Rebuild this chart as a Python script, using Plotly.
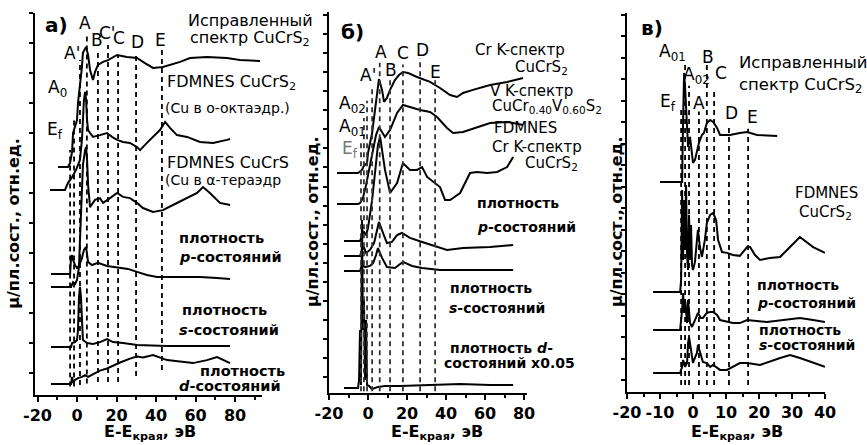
import plotly.graph_objects as go

FONT = "DejaVu Sans, Liberation Sans, Arial, sans-serif"

# ---------------- Panel а) : Cu K-edge, CuCrS2 ----------------
a_exp_x = [-9.6, -4.6, -3.5, -2.5, -2.0, 0.0, 0.5, 1.5, 2.5, 3.0, 4.6, 5.6, 6.6, 8.1, 9.1, 10.6, 13.2, 15.7, 20.3, 25.3, 30.4, 34.4, 38.5, 43.5, 47.1, 52.2, 57.2, 65.8, 75.9, 82.5, 92.7]
a_exp_y = [6.87, 6.87, 7.0, 7.37, 8.0, 8.43, 9.0, 9.53, 10.2, 10.67, 10.87, 10.6, 10.1, 9.77, 10.03, 10.27, 10.37, 10.43, 10.6, 10.53, 10.5, 10.33, 10.17, 10.2, 10.27, 10.37, 10.5, 10.53, 10.5, 10.43, 10.4]

a_oct_x = [-13.7, -6.1, -4.6, -2.5, -0.5, 1.5, 2.5, 3.0, 3.5, 4.1, 4.6, 5.1, 5.6, 6.6, 8.1, 11.6, 15.2, 17.7, 20.3, 23.3, 26.8, 30.4, 31.9, 35.4, 38.5, 42.0, 44.6, 47.1, 50.6, 55.7, 62.3, 68.9, 75.9, 77.5]
a_oct_y = [6.1, 6.1, 6.33, 6.53, 6.77, 7.1, 7.77, 8.6, 9.1, 9.37, 9.1, 8.43, 8.1, 8.0, 7.87, 7.93, 8.0, 7.87, 7.77, 7.7, 7.67, 7.53, 7.43, 7.67, 7.87, 8.1, 8.37, 8.17, 7.93, 7.87, 7.7, 7.67, 7.77, 7.8]

a_tet_x = [-13.2, -3.0, -2.0, -1.0, 0.0, 1.0, 1.5, 2.0, 2.5, 3.0, 4.1, 4.6, 5.1, 5.6, 6.6, 8.1, 9.1, 11.6, 13.2, 16.7, 20.3, 23.3, 26.8, 30.4, 33.4, 38.5, 43.5, 48.6, 55.7, 60.8, 63.8, 67.3, 72.4, 77.5]
a_tet_y = [2.87, 2.87, 3.03, 2.97, 3.1, 3.53, 4.43, 5.43, 6.27, 6.93, 7.43, 7.53, 7.1, 6.27, 5.53, 5.7, 5.77, 5.83, 5.67, 5.83, 6.0, 5.87, 5.83, 5.67, 5.5, 5.37, 5.43, 5.6, 5.83, 6.0, 6.2, 6.0, 5.67, 5.6]

a_p_x = [-13.2, -3.5, -3.0, -2.5, -2.0, -1.0, 0.0, 1.0, 2.5, 3.5, 4.6, 5.6, 7.6, 10.6, 15.2, 20.8, 25.8, 30.4, 35.4, 40.5, 48.6, 62.3, 70.9, 77.5]
a_p_y = [3.3, 3.3, 3.87, 3.93, 3.77, 3.6, 3.5, 3.57, 3.83, 4.1, 4.2, 3.7, 3.6, 3.67, 3.57, 3.53, 3.47, 3.37, 3.27, 3.2, 3.2, 3.2, 3.17, 3.13]

a_s_x = [-13.2, -3.0, -2.5, -1.0, 0.0, 0.5, 1.0, 1.5, 2.0, 2.5, 3.0, 5.1, 8.1, 11.6, 15.2, 18.2, 23.3, 30.4, 45.6, 77.5]
a_s_y = [0.87, 0.87, 1.0, 1.03, 1.1, 1.43, 2.53, 2.87, 2.53, 1.43, 1.1, 1.0, 0.97, 1.03, 1.13, 1.03, 1.0, 0.93, 0.9, 0.9]

a_d_x = [-13.2, -3.0, -2.5, -2.0, -1.0, 0.5, 2.5, 4.1, 5.6, 8.1, 11.6, 15.2, 18.2, 21.8, 26.8, 30.4, 33.4, 38.5, 45.6, 52.2, 58.7, 65.8, 70.9, 77.5]
a_d_y = [-0.37, -0.37, -0.13, -0.33, -0.23, -0.17, -0.13, -0.07, -0.13, -0.05, 0.08, 0.15, 0.25, 0.35, 0.48, 0.55, 0.52, 0.6, 0.43, 0.37, 0.33, 0.43, 0.53, 0.33]

a_mark_x = [-3.5, -1.5, 1.5, 5.0, 10.6, 15.7, 20.8, 29.9, 43.0]
a_mark_top = [7.43, 8.43, 10.43, 11.27, 10.77, 10.93, 10.6, 10.67, 10.87]
a_mark_bot = [-0.45, -0.45, -0.4, -0.35, -0.3, -0.3, -0.3, -0.1, 0.1]

# ---------------- Panel б) : Cr / V K-edges ----------------
b_cr_x = [-15.9, -5.1, -3.1, -2.1, -0.5, 0.0, 2.1, 3.6, 5.1, 5.6, 7.2, 8.2, 9.7, 11.3, 13.8, 15.9, 17.9, 20.5, 25.1, 31.8, 36.9, 42.1, 45.6, 48.7, 53.8, 62.6, 71.3, 79.5]
b_cr_y = [10.71, 10.71, 10.87, 11.08, 11.23, 11.76, 12.81, 14.17, 15.22, 15.64, 15.07, 14.44, 14.65, 15.07, 15.59, 15.85, 16.01, 15.96, 15.75, 15.49, 15.17, 14.80, 14.70, 14.91, 15.07, 15.33, 15.49, 15.70]

b_v_x = [-15.9, -5.1, -4.1, -2.6, -1.0, 1.0, 2.6, 4.1, 5.6, 7.2, 8.7, 11.3, 14.9, 17.9, 21.5, 26.7, 31.8, 35.4, 40.5, 43.6, 48.7, 55.9, 62.6, 71.3, 79.5]
b_v_y = [9.08, 9.08, 9.13, 9.40, 10.08, 11.13, 12.02, 12.70, 13.12, 12.81, 12.60, 12.97, 13.86, 14.28, 14.17, 14.02, 13.91, 13.65, 13.07, 12.81, 12.86, 13.12, 13.33, 13.39, 13.23]

b_fd_x = [-12.3, -4.1, -3.1, -2.1, -1.0, 0.0, 2.1, 3.6, 5.1, 6.2, 7.2, 8.7, 11.3, 14.9, 17.9, 21.5, 25.1, 27.7, 30.3, 33.3, 36.9, 39.5, 42.1, 47.2, 52.3, 55.9, 61.0, 66.2, 71.3, 74.4]
b_fd_y = [7.14, 7.14, 7.40, 7.61, 7.45, 7.82, 9.29, 10.87, 12.18, 12.60, 11.92, 10.87, 9.66, 10.18, 11.23, 10.87, 10.87, 11.02, 10.50, 10.24, 9.97, 9.29, 9.29, 9.66, 10.71, 10.76, 10.71, 10.76, 11.02, 11.55]

b_p_x = [-12.3, -4.1, -3.1, -2.1, -1.0, 1.0, 3.1, 4.6, 5.6, 7.7, 9.7, 12.3, 14.9, 17.4, 21.5, 27.7, 35.4, 40.5, 48.7, 62.6, 74.4]
b_p_y = [6.35, 6.35, 6.67, 6.82, 6.51, 6.67, 7.03, 7.72, 8.14, 7.56, 7.03, 7.09, 7.45, 7.56, 7.30, 7.09, 6.82, 6.67, 6.77, 6.82, 6.93]

b_s_x = [-12.3, -4.1, -3.1, -1.5, 1.0, 2.6, 4.1, 5.1, 7.2, 9.7, 13.8, 17.9, 22.6, 27.7, 36.9, 74.4]
b_s_y = [5.56, 5.56, 5.88, 5.77, 5.83, 5.98, 6.40, 6.77, 6.25, 5.77, 5.72, 6.04, 5.83, 5.72, 5.62, 5.62]

b_d_x = [-12.3, -5.1, -4.6, -4.1, -3.6, -3.1, -2.6, -2.1, -1.5, -1.0, -0.5, 0.5, 2.1, 5.1, 8.7, 16.4, 31.8, 47.2, 62.6, 74.4]
b_d_y = [-0.58, -0.58, -0.16, 2.47, -0.42, 8.24, 2.47, 4.04, -0.16, 2.99, -0.42, -0.47, -0.63, -0.52, -0.47, -0.47, -0.42, -0.37, -0.42, -0.42]

b_mark_x = [-3.6, -2.1, -0.5, 2.1, 6.0, 11.3, 17.9, 26.7, 34.4]
b_mark_top = [12.4, 13.6, 14.5, 15.3, 16.5, 15.7, 16.4, 16.75, 15.6]
b_mark_bot = -0.75

# ---------------- Panel в) ----------------
c_exp_x = [-10.0, -3.3, -3.0, -2.7, -2.4, -1.8, -1.5, -0.9, -0.3, 0.0, 0.6, 1.2, 1.8, 2.7, 3.3, 4.2, 5.2, 6.1, 7.3, 8.2, 9.1, 11.2, 14.2, 16.4, 19.4, 25.5]
c_exp_y = [9.22, 9.22, 12.11, 14.30, 13.65, 11.64, 10.85, 11.32, 10.57, 10.11, 10.25, 10.62, 11.04, 11.41, 11.50, 11.97, 12.11, 12.02, 11.74, 11.41, 11.41, 11.41, 11.50, 11.55, 11.41, 11.36]

c_fd_x = [-12.1, -3.9, -3.6, -3.3, -3.0, -2.7, -2.4, -2.1, -1.8, -1.5, -1.2, -0.9, -0.6, -0.3, 0.0, 0.6, 1.2, 1.5, 2.1, 2.7, 3.6, 4.2, 5.2, 6.1, 7.0, 7.6, 8.8, 10.3, 12.1, 14.2, 16.4, 17.3, 18.8, 20.3, 23.3, 26.4, 29.4, 32.4, 36.4, 40.0]
c_fd_y = [4.10, 4.10, 4.66, 8.85, 5.59, 8.38, 6.05, 9.08, 5.82, 5.12, 7.69, 5.59, 7.22, 5.36, 5.12, 5.50, 6.52, 6.99, 6.19, 5.73, 6.52, 7.31, 7.69, 7.78, 7.45, 6.52, 5.96, 5.92, 5.82, 5.78, 6.19, 6.19, 5.82, 5.59, 5.68, 5.73, 6.19, 6.66, 6.19, 5.92]

c_p_x = [-12.1, -3.9, -3.3, -3.0, -2.7, -2.4, -1.8, -1.5, -0.9, -0.3, 0.6, 1.5, 2.4, 3.0, 4.2, 5.2, 6.1, 7.3, 8.2, 10.3, 12.1, 14.2, 16.4, 22.4, 26.4, 32.4, 36.4, 40.0]
c_p_y = [2.33, 2.33, 3.26, 4.05, 3.12, 3.73, 2.65, 3.73, 2.65, 2.47, 2.79, 3.12, 2.89, 2.89, 3.12, 3.17, 3.17, 3.03, 2.79, 2.70, 2.65, 2.65, 2.79, 2.70, 2.79, 2.89, 2.79, 2.70]

c_s_x = [-12.1, -3.9, -3.3, -3.0, -2.4, -1.8, -1.5, -1.2, -0.6, 0.0, 0.3, 1.2, 1.5, 2.1, 3.0, 4.2, 5.2, 6.1, 8.2, 10.3, 12.1, 14.2, 16.4, 20.3, 26.4, 29.4, 32.4, 36.4, 40.0]
c_s_y = [0.33, 0.33, 0.61, 0.93, 0.61, 0.79, 1.72, 2.00, 1.40, 0.79, 0.93, 1.26, 1.63, 1.26, 0.84, 0.79, 0.61, 0.70, 0.47, 0.47, 0.61, 0.79, 0.79, 0.70, 1.02, 1.16, 1.02, 0.79, 0.61]

c_mark_x = [-3.6, -2.4, -1.2, 1.8, 4.2, 6.4, 10.9, 16.7]
c_mark_top = [12.6, 14.7, 13.7, 12.5, 14.7, 13.6, 11.9, 11.7]
c_mark_bot = -0.23

ticks_ab = [-20, 0, 20, 40, 60, 80]
ticks_c = [-20, -10, 0, 10, 20, 30, 40]

fig = go.Figure()

def curve(x, y, ax):
    fig.add_trace(go.Scatter(x=x, y=y, mode="lines", xaxis="x" + ax, yaxis="y" + ax,
                             line=dict(color="black", width=2), hoverinfo="skip"))

for xs, ys in [(a_exp_x, a_exp_y), (a_oct_x, a_oct_y), (a_tet_x, a_tet_y),
               (a_p_x, a_p_y), (a_s_x, a_s_y), (a_d_x, a_d_y)]:
    curve(xs, ys, "")
for xs, ys in [(b_cr_x, b_cr_y), (b_v_x, b_v_y), (b_fd_x, b_fd_y),
               (b_p_x, b_p_y), (b_s_x, b_s_y), (b_d_x, b_d_y)]:
    curve(xs, ys, "2")
for xs, ys in [(c_exp_x, c_exp_y), (c_fd_x, c_fd_y), (c_p_x, c_p_y), (c_s_x, c_s_y)]:
    curve(xs, ys, "3")

shapes = []
def vline(ax, x, y0, y1, color="black"):
    shapes.append(dict(type="line", xref="x" + ax, yref="y" + ax, x0=x, x1=x, y0=y0, y1=y1,
                       line=dict(color=color, width=1.8, dash="5px,4px")))

for x, t, b in zip(a_mark_x, a_mark_top, a_mark_bot):
    vline("", x, b, t)
for x, t in zip(b_mark_x, b_mark_top):
    vline("2", x, b_mark_bot, t, "#333333")
for x, t in zip(c_mark_x, c_mark_top):
    vline("3", x, c_mark_bot, t)

ann = []
def lab(ax, x, y, text, size=16, anchor="center", bold=False, color="black"):
    ann.append(dict(xref="x" + ax, yref="y" + ax, x=x, y=y, text=text, showarrow=False,
                    xanchor=anchor, yanchor="middle",
                    font=dict(family=FONT, size=size, color=color,
                              weight="bold" if bold else "normal")))

W, H = 867, 445

def plab(x, y, text, size=16, angle=0, anchor="center", bold=True):
    ann.append(dict(xref="paper", yref="paper", x=x, y=y, text=text, showarrow=False,
                    xanchor=anchor, yanchor="middle", textangle=angle,
                    font=dict(family=FONT, size=size, color="black",
                              weight="bold" if bold else "normal")))

# panel а labels
lab("", -10.6, 11.6, "а)", 20, bold=True)
for t, x, y in [("A", 4.1, 11.67), ("B", 10.1, 11.1), ("C'", 15.2, 11.33), ("C", 21.2, 11.17),
                ("D", 30.4, 11.03), ("E", 42.5, 11.1), ("A'", -2.5, 10.67),
                ("A<sub>0</sub>", -10.1, 9.5), ("E<sub>f</sub>", -11.1, 8.1)]:
    lab("", x, y, t, 17)
lab("", 87.6, 11.75, "Исправленный", 16)
lab("", 87.6, 11.15, "спектр CuCrS<sub>2</sub>", 16)
lab("", 44.6, 9.67, "FDMNES CuCrS<sub>2</sub>", 16, "left")
lab("", 43.5, 8.83, "(Cu в о-октаэдр.)", 14, "left")
lab("", 44.6, 7.03, "FDMNES CuCrS", 16, "left")
lab("", 43.5, 6.43, "(Cu в α-тераэдр", 14, "left")
lab("", 50.6, 4.5, "плотность", 14.5, "left", True)
lab("", 50.6, 3.87, "<i>p</i>-состояний", 14.5, "left", True)
lab("", 52.2, 2.1, "плотность", 14.5, "left", True)
lab("", 50.6, 1.43, "<i>s</i>-состояний", 14.5, "left", True)
lab("", 61.3, 0.08, "плотность", 14.5, "left", True)
lab("", 50.6, -0.42, "<i>d</i>-состояний", 14.5, "left", True)

# panel б labels
lab("2", -7.7, 18.1, "б)", 20, bold=True)
for t, x, y in [("A", 6.7, 17.06), ("C", 17.9, 17.0), ("D", 27.7, 17.17), ("B", 11.8, 16.1),
                ("E", 34.4, 16.0), ("A'", 0.0, 15.85),
                ("A<sub>02</sub>", -8.2, 14.28), ("A<sub>01</sub>", -8.2, 13.12)]:
    lab("2", x, y, t, 17)
lab("2", -9.2, 11.92, "E<sub>f</sub>", 17, color="#777777")
lab("2", 53.8, 17.17, "Cr K-спектр", 15, "left")
plab(570 / W, 1 - 67 / H, "CuCrS<sub>2</sub>", 15, anchor="right", bold=False)
lab("2", 61.5, 15.0, "V K-спектр", 15, "left")
lab("2", 62.6, 14.2, "CuCr<sub>0.40</sub>V<sub>0.60</sub>S<sub>2</sub>", 15, "left")
lab("2", 63.6, 13.07, "FDMNES", 15, "left")
lab("2", 62.6, 12.07, "Cr K-спектр", 15, "left")
lab("2", 79.5, 11.23, "CuCrS<sub>2</sub>", 15, "left")
lab("2", 54.9, 9.13, "плотность", 14, "left", True)
lab("2", 54.9, 7.87, "<i>p</i>-состояний", 14, "left", True)
lab("2", 41.0, 4.67, "плотность", 14, "left", True)
lab("2", 40.5, 3.62, "<i>s</i>-состояний", 14, "left", True)
lab("2", 41.0, 1.52, "плотность <i>d</i>-", 14, "left", True)
lab("2", 37.9, 0.73, "состояний x0.05", 14, "left", True)

# panel в labels
lab("3", -12.4, 16.4, "в)", 20, bold=True)
for t, x, y in [("A<sub>01</sub>", -6.1, 15.23), ("A<sub>02</sub>", 1.2, 14.2), ("B", 4.5, 15.04),
                ("C", 8.5, 14.3), ("E<sub>f</sub>", -7.6, 12.9), ("A", 1.8, 12.9),
                ("D", 11.8, 12.44), ("E", 17.9, 12.25)]:
    lab("3", x, y, t, 17)
lab("3", 13.4, 14.8, "Исправленный", 16.5, "left")
lab("3", 13.4, 13.7, "спектр CuCrS<sub>2</sub>", 16.5, "left")
lab("3", 30.3, 8.71, "FDMNES", 15, "left")
lab("3", 31.5, 7.82, "CuCrS<sub>2</sub>", 15, "left")
lab("3", 18.8, 4.42, "плотность", 14, "left", True)
lab("3", 18.8, 3.59, "<i>p</i>-состояний", 14, "left", True)
lab("3", 19.4, 2.33, "плотность", 14, "left", True)
lab("3", 19.4, 1.63, "<i>s</i>-состояний", 14, "left", True)

# axis titles
ytitle = "μ/пл.сост., отн.ед."
xtitle = "E-E<sub>края</sub>, эВ"
plab(14 / W, 0.497, ytitle, 16, -90)
plab(312 / W, 0.501, ytitle, 16, -90)
plab(616 / W, 0.501, ytitle, 16, -90)
plab(150 / W, 1 - 432 / H, xtitle, 16)
plab(437 / W, 1 - 432 / H, xtitle, 16)
plab(737 / W, 1 - 432 / H, xtitle, 16)

def xax(domain, rng, tv, minor_dt, anchor):
    return dict(domain=domain, range=rng, tickvals=tv, ticktext=[str(v) for v in tv],
                anchor=anchor, automargin=False, showline=True,
                linecolor="black", linewidth=2, ticks="outside", ticklen=5, tickwidth=2,
                tickcolor="black", showgrid=False, zeroline=False,
                minor=dict(dtick=minor_dt, tick0=0, ticks="outside", ticklen=3, tickwidth=1.5,
                           tickcolor="black"),
                tickfont=dict(family=FONT, size=16, color="black", weight="bold"))

def yax(domain, rng, n, anchor):
    return dict(domain=domain, range=rng, tickvals=list(range(n)), anchor=anchor,
                automargin=False, showline=True, linecolor="black", linewidth=2,
                ticks="outside", ticklen=4, tickwidth=2, tickcolor="black",
                showticklabels=False, showgrid=False, zeroline=False)

fig.update_layout(
    width=W, height=H, margin=dict(l=0, r=0, t=0, b=0, autoexpand=False),
    paper_bgcolor="white", plot_bgcolor="white", showlegend=False,
    xaxis=xax([35 / W, 262 / W], [-21.27, 93.67], ticks_ab, 10, "y"),
    yaxis=yax([1 - 395 / H, 1 - 13 / H], [-0.733, 12.0], 13, "x"),
    xaxis2=xax([329 / W, 527 / W], [-20.0, 81.5], ticks_ab, 10, "y2"),
    yaxis2=yax([1 - 393 / H, 1 - 12 / H], [-0.84, 19.16], 20, "x2"),
    xaxis3=xax([627 / W, 825 / W], [-20.0, 40.0], ticks_c, 5, "y3"),
    yaxis3=yax([1 - 392 / H, 1 - 13 / H], [-0.56, 17.09], 18, "x3"),
    shapes=shapes, annotations=ann,
)

fig.write_html("out.html")
